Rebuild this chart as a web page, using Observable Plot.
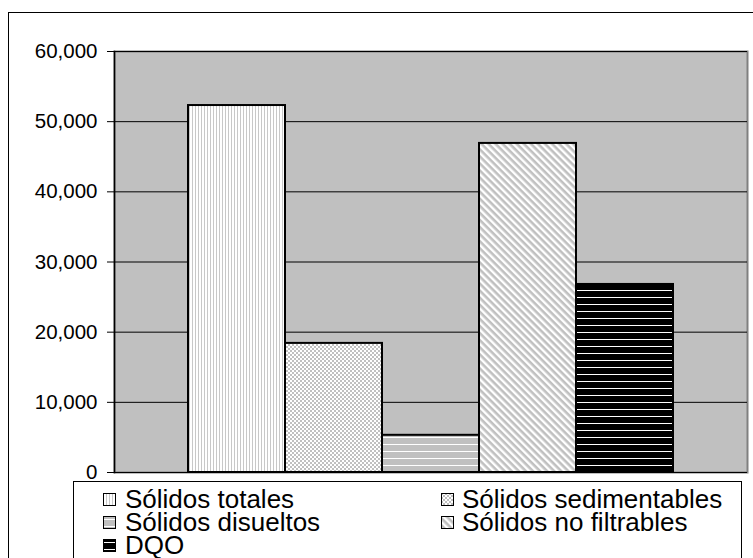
<!DOCTYPE html>
<html><head><meta charset="utf-8">
<script src="https://cdn.jsdelivr.net/npm/d3@7"></script>
<script src="https://cdn.jsdelivr.net/npm/@observablehq/plot@0.6"></script>
<style>
body{margin:0;background:white;font-family:"Liberation Sans",Arial,sans-serif;}
#wrap{position:relative;width:753px;height:558px;overflow:hidden;background:white;}
#wrap > svg.plot-chart{position:absolute;left:0;top:0;}
#outer{position:absolute;left:8px;top:12px;width:800px;height:600px;border:1.5px solid black;box-sizing:border-box;pointer-events:none;}
#legend{position:absolute;left:73px;top:481px;width:669px;height:120px;border:1px solid black;background:white;box-sizing:border-box;}
.lg-sw{position:absolute;width:13px;height:13px;}
.lg-tx{position:absolute;font-size:26px;line-height:22px;height:22px;white-space:nowrap;color:black;}
</style></head><body>
<svg width="0" height="0" style="position:absolute">
  <defs>
    <pattern id="p-totales" patternUnits="userSpaceOnUse" width="3" height="3">
      <rect width="3" height="3" fill="white"/>
      <rect x="0" width="1" height="3" fill="#c8c8c8"/>
    </pattern>
    <pattern id="p-sed" patternUnits="userSpaceOnUse" width="4" height="4">
      <rect width="4" height="4" fill="white"/>
      <rect x="0" y="0" width="2" height="2" fill="#c0c0c0"/>
      <rect x="2" y="2" width="2" height="2" fill="#c0c0c0"/>
    </pattern>
    <pattern id="p-dis" patternUnits="userSpaceOnUse" width="7" height="7">
      <rect width="7" height="7" fill="#c0c0c0"/>
      <rect y="3" width="7" height="1" fill="white"/>
    </pattern>
    <pattern id="p-nofil" patternUnits="userSpaceOnUse" width="5" height="5" patternTransform="rotate(45)">
      <rect width="5" height="5" fill="white"/>
      <rect y="0" width="5" height="2.6" fill="#c0c0c0"/>
    </pattern>
    <pattern id="p-dqo" patternUnits="userSpaceOnUse" width="7" height="7">
      <rect width="7" height="7" fill="black"/>
      <rect y="3" width="7" height="1" fill="white"/>
    </pattern>
  </defs>
</svg>
<div id="wrap"></div>
<script>
const series = ["Sólidos totales", "Sólidos sedimentables", "Sólidos disueltos", "Sólidos no filtrables", "DQO"];
const values = [52300, 18400, 5300, 46900, 26800];
const patternIds = ["p-totales", "p-sed", "p-dis", "p-nofil", "p-dqo"];
const yTicks = [0, 10000, 20000, 30000, 40000, 50000, 60000];

const data = series.map((s, i) => ({name: s, value: values[i], pat: `url(#${patternIds[i]})`}));

const chart = Plot.plot({
  width: 753, height: 558,
  marginTop: 51, marginBottom: 86, marginLeft: 114, marginRight: 6,
  style: {background: "transparent", fontFamily: "'Liberation Sans', Arial, sans-serif", fontSize: "20px", color: "black"},
  x: {domain: series, paddingInner: 0, paddingOuter: 0.75, axis: null},
  y: {domain: [0, 60000], axis: null, label: null},
  color: {type: "identity"},
  marks: [
    Plot.frame({fill: "#c0c0c0", stroke: "#808080", strokeWidth: 2}),
    Plot.gridY(yTicks, {stroke: "black", strokeOpacity: 1, strokeWidth: 1}),
    Plot.frame({anchor: "left", stroke: "black", strokeWidth: 1.5}),
    Plot.barY(data, {x: "name", y: "value", fill: "pat", stroke: "black", strokeWidth: 2}),
    Plot.axisY(yTicks, {label: null, tickFormat: d3.format(","), tickSize: 7, tickPadding: 10, stroke: "black", fill: "black", fontSize: 20.5})
  ]
});
chart.classList.add("plot-chart");
const wrap = document.getElementById("wrap");
wrap.appendChild(chart);

const outer = document.createElement("div");
outer.id = "outer";
wrap.appendChild(outer);

const legend = document.createElement("div");
legend.id = "legend";
wrap.appendChild(legend);
const colSw = [29, 367], colTx = [51, 388];
const rowBase = [26, 49, 72];
series.forEach((s, i) => {
  const c = i % 2, r = Math.floor(i / 2);
  const sw = document.createElementNS("http://www.w3.org/2000/svg", "svg");
  sw.setAttribute("class", "lg-sw");
  sw.setAttribute("width", 13); sw.setAttribute("height", 13);
  sw.style.left = colSw[c] + "px";
  sw.style.top = (rowBase[r] - 15) + "px";
  sw.innerHTML = `<rect x="0.5" y="0.5" width="12" height="12" fill="url(#${patternIds[i]})" stroke="black" stroke-width="1"/>`;
  legend.appendChild(sw);
  const tx = document.createElement("div");
  tx.className = "lg-tx";
  tx.textContent = s;
  tx.style.left = colTx[c] + "px";
  tx.style.top = (rowBase[r] - 20) + "px";
  legend.appendChild(tx);
});
</script>
</body></html>
